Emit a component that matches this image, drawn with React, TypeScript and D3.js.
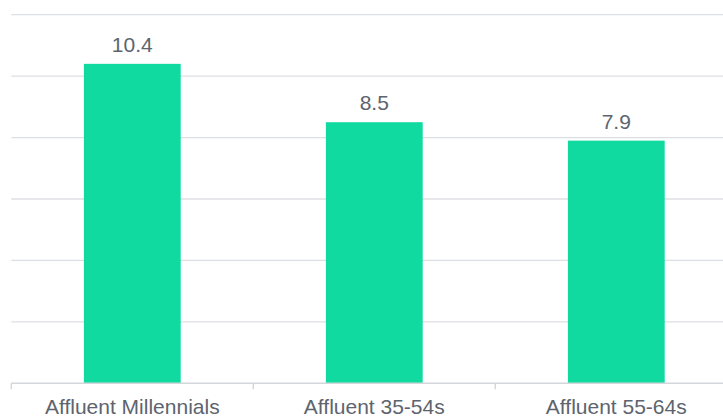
import React from "react";
import * as d3 from "d3";

const categories = ["Affluent Millennials", "Affluent 35-54s", "Affluent 55-64s"];
const values = [10.4, 8.5, 7.9];
const gridTicks = [0, 2, 4, 6, 8, 10, 12];

const W = 723;
const H = 417;
const FONT = "'Liberation Sans', Arial, Helvetica, sans-serif";

export default function App() {
  const x = d3
    .scaleBand<string>()
    .domain(categories)
    .range([11.3, 737.3])
    .paddingInner(0.6)
    .paddingOuter(0.3);
  const y = d3.scaleLinear().domain([0, 12]).range([383.3, 14.7]);
  const step = x.step();
  const tickXs = d3.range(categories.length + 1).map((i) => 11.3 + i * step);

  return (
    <svg
      width={W}
      height={H}
      style={{ position: "absolute", left: 0, top: 0, display: "block", background: "#fff" }}
    >
      {gridTicks.slice(1).map((t) => (
        <line key={t} x1={11.3} x2={W} y1={y(t)} y2={y(t)} stroke="#dcdfe3" strokeWidth={1.3} />
      ))}
      {categories.map((c, i) => (
        <rect
          key={c}
          x={x(c)}
          y={y(values[i])}
          width={x.bandwidth()}
          height={y(0) - y(values[i])}
          fill="#11daa1"
        />
      ))}
      <line x1={11.3} x2={W} y1={y(0)} y2={y(0)} stroke="#d3d6db" strokeWidth={1.4} />
      {tickXs.map((tx, i) => (
        <line key={i} x1={tx} x2={tx} y1={y(0)} y2={y(0) + 6} stroke="#d3d6db" strokeWidth={1.4} />
      ))}
      {categories.map((c, i) => (
        <text
          key={c}
          x={(x(c) ?? 0) + x.bandwidth() / 2}
          y={y(values[i]) - 12}
          textAnchor="middle"
          fontFamily={FONT}
          fontSize={21}
          fill="#5d646e"
        >
          {values[i].toFixed(1)}
        </text>
      ))}
      {categories.map((c) => (
        <text
          key={c}
          x={(x(c) ?? 0) + x.bandwidth() / 2}
          y={414}
          textAnchor="middle"
          fontFamily={FONT}
          fontSize={21}
          fill="#5d646e"
        >
          {c}
        </text>
      ))}
    </svg>
  );
}
